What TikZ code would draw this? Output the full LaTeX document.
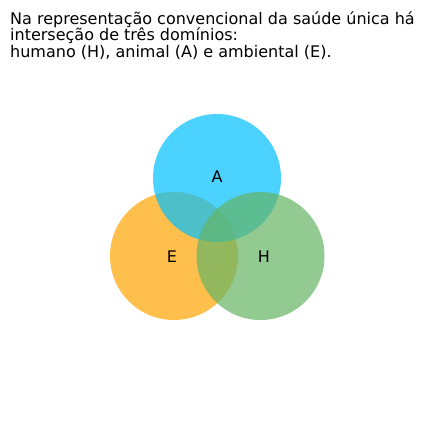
\documentclass[tikz,border=0pt]{standalone}
\usepackage{fontspec}
\setmainfont{DejaVu Sans}
\definecolor{cE}{RGB}{255,165,0}
\definecolor{cA}{RGB}{0,191,255}
\definecolor{cH}{RGB}{100,180,100}
\begin{document}
\begin{tikzpicture}[x=1pt,y=-1pt,
  venn/.style={circle,minimum size=128pt,inner sep=0pt,fill opacity=0.7,text opacity=1},
  lbl/.style={font=\fontsize{16}{16}\selectfont,inner sep=0pt}]
\useasboundingbox[fill=white] (0,0) rectangle (435,435);
\node[venn,fill=cE] (E) at (174,256) {};
\node[venn,fill=cA] (A) at (217,178) {};
\node[venn,fill=cH] (H) at (260.5,256) {};
\node[lbl] (lA) at (217,177) {A};
\node[lbl] (lE) at (172,257) {E};
\node[lbl] (lH) at (264,257) {H};
\node[anchor=base west,inner sep=0pt,align=left,font=\fontsize{16}{16.3}\selectfont] (title) at (10,57.3)
  {Na representação convencional da saúde única há\\interseção de três domínios:\\humano (H), animal (A) e ambiental (E).};
\end{tikzpicture}
\end{document}
